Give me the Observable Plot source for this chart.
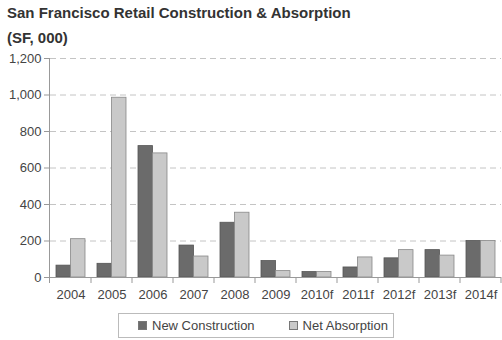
<!DOCTYPE html>
<html>
<head>
<meta charset="utf-8">
<script src="https://cdn.jsdelivr.net/npm/d3@7"></script>
<script src="https://cdn.jsdelivr.net/npm/@observablehq/plot@0.6"></script>
<style>
  body { margin: 0; background: #fff; font-family: "Liberation Sans", Arial, sans-serif; }
  #wrap { position: relative; width: 502px; height: 340px; overflow: hidden; }
  .t1 { position: absolute; left: 7px; top: 4px; font-size: 15px; font-weight: bold; color: #333; white-space: nowrap; }
  .t2 { position: absolute; left: 7px; top: 29px; font-size: 15px; font-weight: bold; color: #333; white-space: nowrap; }
  #chart { position: absolute; left: 0; top: 50px; }
  #legend { position: absolute; left: 118px; top: 313px; width: 276px; height: 25px; border: 1px solid #bbb; box-sizing: border-box;
    display: flex; align-items: center; font-size: 13px; color: #444; }
  .sw { display: inline-block; width: 9px; height: 9px; box-sizing: border-box; border: 1px solid #777; margin-right: 5px; }
</style>
</head>
<body>
<div id="wrap">
  <div class="t1">San Francisco Retail Construction &amp; Absorption</div>
  <div class="t2">(SF, 000)</div>
  <div id="chart"></div>
  <div id="legend"></div>
</div>
<script>
const years = ["2004","2005","2006","2007","2008","2009","2010f","2011f","2012f","2013f","2014f"];
const newConstruction = [65, 75, 720, 175, 300, 90, 30, 55, 105, 150, 200];
const netAbsorption = [210, 985, 680, 115, 355, 35, 30, 110, 150, 120, 200];
const seriesNames = ["New Construction", "Net Absorption"];
const seriesColors = ["#6b6b6b", "#c9c9c9"];
const yTicks = [0, 200, 400, 600, 800, 1000, 1200];

const data = [];
years.forEach((y, i) => {
  data.push({year: y, series: seriesNames[0], value: newConstruction[i]});
  data.push({year: y, series: seriesNames[1], value: netAbsorption[i]});
});

const W = 502, mL = 50, mR = 1;
const step = (W - mL - mR) / years.length;
const pad = 6;
const half = (step - 2 * pad) / 2;

const fmt = d3.format(",");

const chart = Plot.plot({
  width: W,
  height: 257,
  marginLeft: mL,
  marginRight: mR,
  marginTop: 8,
  marginBottom: 30,
  style: {fontFamily: "Liberation Sans, Arial, sans-serif", fontSize: "13px", color: "#444", background: "#fff"},
  x: {domain: years, padding: 0, label: null},
  y: {domain: [0, 1200], ticks: yTicks, label: null},
  color: {domain: seriesNames, range: seriesColors},
  marks: [
    Plot.ruleY(yTicks.filter(d => d > 0), {stroke: "#c4c4c4", strokeDasharray: "6,4", strokeWidth: 1}),
    Plot.barY(data.filter(d => d.series === seriesNames[0]), {
      x: "year", y: "value", fill: "series", stroke: "#555", strokeWidth: 0.8,
      insetLeft: pad, insetRight: pad + half
    }),
    Plot.barY(data.filter(d => d.series === seriesNames[1]), {
      x: "year", y: "value", fill: "series", stroke: "#888", strokeWidth: 0.8,
      insetLeft: pad + half, insetRight: pad
    }),
    Plot.ruleY([0], {stroke: "#999"}),
    Plot.axisY({ticks: yTicks, tickFormat: fmt, tickSize: 6, tickPadding: 3, stroke: "#999", fill: "#444", fontSize: 13}),
    Plot.axisX({tickSize: 0, tickPadding: 12, fill: "#444", fontSize: 13})
  ]
});
document.getElementById("chart").appendChild(chart);

// y-axis line and tick marks below baseline at band boundaries
const svg = d3.select(chart);
const xs = chart.scale("x");
const ys = chart.scale("y");
const y0 = ys.apply(0);
const yTop = ys.apply(1200);
const bounds = years.map(y => xs.apply(y)).concat([xs.apply(years[years.length - 1]) + xs.bandwidth]);
svg.append("line").attr("stroke", "#999")
  .attr("x1", bounds[0] - 0.5).attr("x2", bounds[0] - 0.5).attr("y1", yTop).attr("y2", y0 + 6);
svg.append("g").attr("stroke", "#999").selectAll("line").data(bounds.slice(1)).join("line")
  .attr("x1", d => d).attr("x2", d => d).attr("y1", y0).attr("y2", y0 + 6);

const leg = document.getElementById("legend");
leg.innerHTML = `<span style="margin-left:19px" class="sw"></span><span>${seriesNames[0]}</span>` +
  `<span style="margin-left:34px" class="sw"></span><span>${seriesNames[1]}</span>`;
const sws = leg.querySelectorAll(".sw");
sws[0].style.background = seriesColors[0];
sws[1].style.background = seriesColors[1];
</script>
</body>
</html>
